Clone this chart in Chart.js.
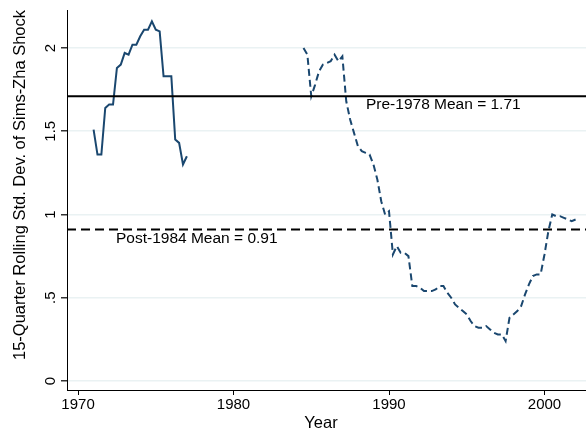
<!DOCTYPE html>
<html>
<head>
<meta charset="utf-8">
<script src="https://cdn.jsdelivr.net/npm/chart.js@4/dist/chart.umd.min.js"></script>
<style>
  html, body { margin: 0; padding: 0; background: #fff; }
</style>
</head>
<body>
<canvas id="chart" width="586" height="431"></canvas>
<script>
// quarterly rolling std. dev., early sample (1971Q1 onward)
const earlyStart = 1971.0;
const earlyValues = [1.51, 1.36, 1.36, 1.64, 1.66, 1.66, 1.88, 1.90, 1.97, 1.96, 2.02, 2.02,
  2.07, 2.11, 2.11, 2.16, 2.11, 2.10, 1.83, 1.83, 1.83, 1.45, 1.43, 1.30, 1.35];

// later sample (1984Q3 onward)
const lateStart = 1984.5;
const lateValues = [
  2.00, 1.96, 1.71, 1.78, 1.86, 1.90, 1.91, 1.92, 1.96, 1.92, 1.95,
  1.68, 1.57, 1.49, 1.41, 1.38, 1.37, 1.36, 1.30, 1.21, 1.08,
  1.00, 1.02, 0.76, 0.81, 0.77, 0.77, 0.75, 0.57, 0.57, 0.56,
  0.54, 0.54, 0.54, 0.55, 0.57, 0.57, 0.53, 0.50, 0.46, 0.44,
  0.42, 0.40, 0.36, 0.33, 0.32, 0.32, 0.33, 0.31, 0.29, 0.28,
  0.28, 0.24, 0.38, 0.40, 0.42, 0.45, 0.52, 0.58, 0.63, 0.64,
  0.64, 0.76, 0.90, 1.00, 0.99, 0.99, 0.98, 0.97, 0.96, 0.97
];

const preMean = 1.71;
const postMean = 0.91;

const xTicks = [1970, 1980, 1990, 2000];
const yTicks = [0, 0.5, 1, 1.5, 2];
const yTickLabels = ['0', '.5', '1', '1.5', '2'];

const xMin = 1969.29, xMax = 2002.67;
const yMin = -0.054, yMax = 2.228;

const navy = '#1a476f';
const font = '"Liberation Sans", Arial, sans-serif';

const toPoints = (start, vals) => vals.map((v, i) => ({ x: start + i * 0.25, y: v }));

// tick labels, axis titles and mean annotations
const textPlugin = {
  id: 'texts',
  afterDraw(chart) {
    const { ctx, scales: { x, y } } = chart;
    ctx.save();
    ctx.fillStyle = '#000';

    ctx.font = '15px ' + font;
    ctx.textAlign = 'center';
    ctx.textBaseline = 'middle';
    xTicks.forEach((t) => ctx.fillText(String(t), x.getPixelForValue(t), 405));

    yTicks.forEach((t, i) => {
      ctx.save();
      ctx.translate(51, y.getPixelForValue(t));
      ctx.rotate(-Math.PI / 2);
      ctx.fillText(yTickLabels[i], 0, 0);
      ctx.restore();
    });

    ctx.font = '16.5px ' + font;
    ctx.fillText('Year', 321, 423);
    ctx.save();
    ctx.translate(20, 185);
    ctx.rotate(-Math.PI / 2);
    ctx.fillText('15-Quarter Rolling Std. Dev. of Sims-Zha Shock', 0, 0);
    ctx.restore();

    ctx.font = '15.5px ' + font;
    ctx.textAlign = 'left';
    ctx.fillText('Pre-1978 Mean = ' + preMean.toFixed(2), x.getPixelForValue(1988.52), y.getPixelForValue(preMean) + 8.5);
    ctx.fillText('Post-1984 Mean = ' + postMean.toFixed(2), x.getPixelForValue(1972.44), y.getPixelForValue(postMean) + 9);
    ctx.restore();
  }
};

new Chart(document.getElementById('chart'), {
  type: 'line',
  data: {
    datasets: [
      {
        data: [{ x: xMin, y: preMean }, { x: xMax, y: preMean }],
        borderColor: '#000', borderWidth: 2, pointRadius: 0
      },
      {
        data: [{ x: xMin, y: postMean }, { x: xMax, y: postMean }],
        borderColor: '#000', borderWidth: 2, borderDash: [9, 5], pointRadius: 0
      },
      {
        data: toPoints(earlyStart, earlyValues),
        borderColor: navy, borderWidth: 2, pointRadius: 0, tension: 0
      },
      {
        data: toPoints(lateStart, lateValues),
        borderColor: navy, borderWidth: 2, borderDash: [7, 4], pointRadius: 0, tension: 0
      }
    ]
  },
  options: {
    responsive: false,
    animation: false,
    devicePixelRatio: 1,
    layout: { padding: { top: 10, right: 0, left: 0, bottom: 0 } },
    plugins: { legend: { display: false }, tooltip: { enabled: false } },
    scales: {
      x: {
        type: 'linear',
        min: xMin,
        max: xMax,
        afterBuildTicks: (s) => { s.ticks = xTicks.map((v) => ({ value: v })); },
        afterFit: (s) => { s.height = 41; },
        ticks: { display: false },
        grid: { drawOnChartArea: false, drawTicks: true, tickLength: 5, tickColor: '#000', color: '#000' },
        border: { display: true, color: '#000', width: 1 }
      },
      y: {
        min: yMin,
        max: yMax,
        afterBuildTicks: (s) => { s.ticks = yTicks.map((v) => ({ value: v })); },
        afterFit: (s) => { s.width = 67; },
        ticks: { display: false },
        grid: { color: '#eaf2f3', lineWidth: 1.5, drawTicks: true, tickLength: 6, tickColor: '#333' },
        border: { display: true, color: '#000', width: 1 }
      }
    }
  },
  plugins: [textPlugin]
});
</script>
</body>
</html>
